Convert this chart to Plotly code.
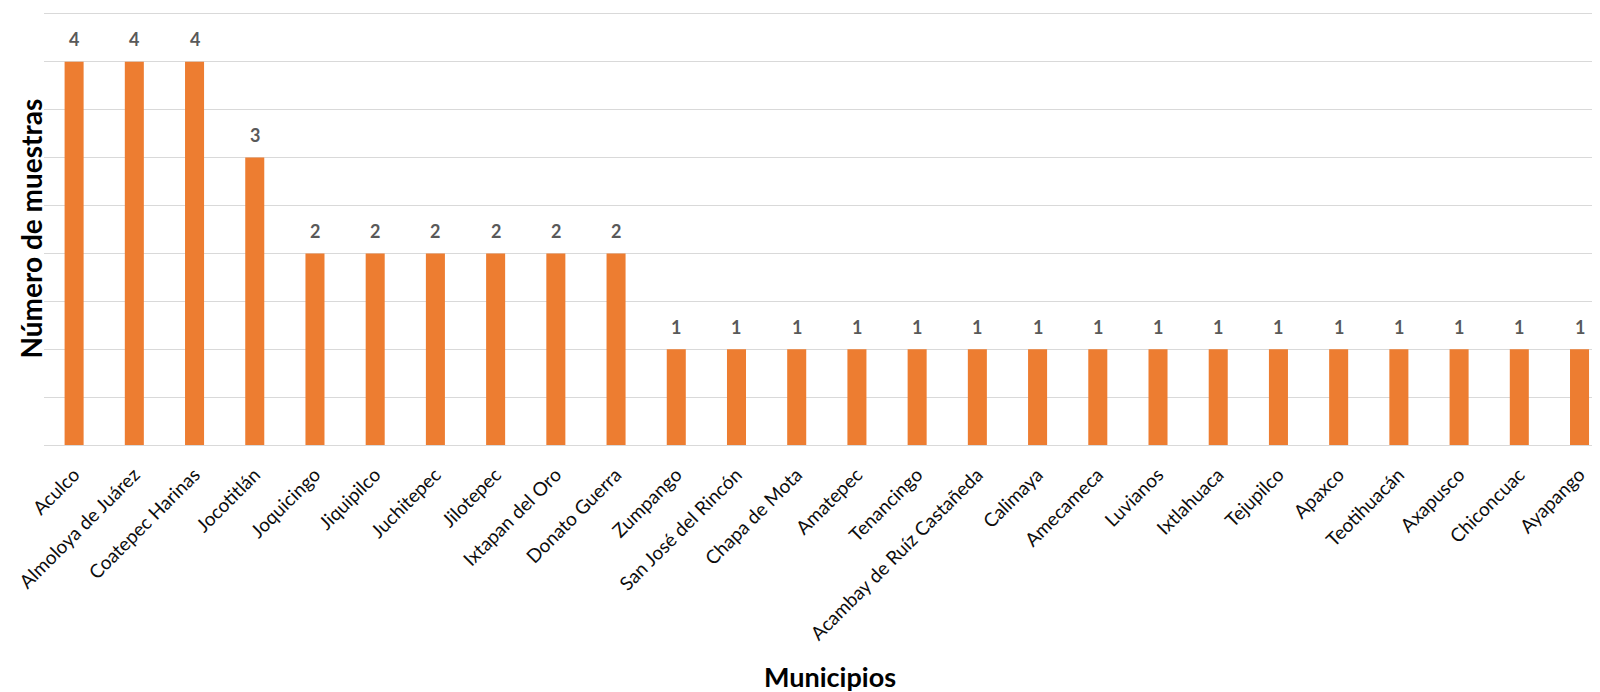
import plotly.graph_objects as go

municipios = ["Aculco", "Almoloya de Juárez", "Coatepec Harinas", "Jocotitlán", "Joquicingo",
              "Jiquipilco", "Juchitepec", "Jilotepec", "Ixtapan del Oro", "Donato Guerra",
              "Zumpango", "San José del Rincón", "Chapa de Mota", "Amatepec", "Tenancingo",
              "Acambay de Ruíz Castañeda", "Calimaya", "Amecameca", "Luvianos", "Ixtlahuaca",
              "Tejupilco", "Apaxco", "Teotihuacán", "Axapusco", "Chiconcuac", "Ayapango"]
muestras = [4, 4, 4, 3, 2, 2, 2, 2, 2, 2, 1, 1, 1, 1, 1, 1, 1, 1, 1, 1, 1, 1, 1, 1, 1, 1]
grid_vals = [0, 0.5, 1, 1.5, 2, 2.5, 3, 3.5, 4, 4.5]

fig = go.Figure(go.Bar(
    x=municipios, y=muestras,
    marker=dict(color="#ED7D31", line=dict(width=0)),
    hoverinfo="skip",
))

for m, v in zip(municipios, muestras):
    fig.add_annotation(x=m, y=v, text=f"<b>{v}</b>", showarrow=False, yshift=22.5,
                       yanchor="middle",
                       font=dict(family="Lato", size=18, color="#595959"))

fig.update_layout(
    width=1592, height=684,
    margin=dict(l=36, r=0, t=4, b=247),
    paper_bgcolor="white", plot_bgcolor="white",
    bargap=0.684,
    showlegend=False,
    font=dict(family="Lato"),
)
fig.update_xaxes(
    range=[-0.5, 25.34],
    tickangle=-45, automargin=False, ticklabelstandoff=14,
    tickfont=dict(family="Lato", size=19, color="#0d0d0d"),
    showgrid=False, showline=False, ticks="",
)
fig.update_yaxes(
    range=[0, 4.52], tickvals=grid_vals,
    showticklabels=False, automargin=False,
    showgrid=True, gridcolor="#D9D9D9", gridwidth=1.3,
    zeroline=True, zerolinecolor="#D9D9D9", zerolinewidth=1.3,
)
fig.add_annotation(text="<b>Número de muestras</b>", xref="paper", yref="paper",
                   x=0.0, xshift=-14, y=0.5, textangle=-90, showarrow=False,
                   xanchor="center", yanchor="middle",
                   font=dict(family="Lato", size=28, color="#000000"))
fig.add_annotation(text="<b>Municipios</b>", xref="paper", yref="paper",
                   x=0.0, xshift=786, y=0, yshift=-231, showarrow=False,
                   xanchor="center", yanchor="middle",
                   font=dict(family="Lato", size=27, color="#000000"))

fig.write_html("out.html", config={"displayModeBar": False})
